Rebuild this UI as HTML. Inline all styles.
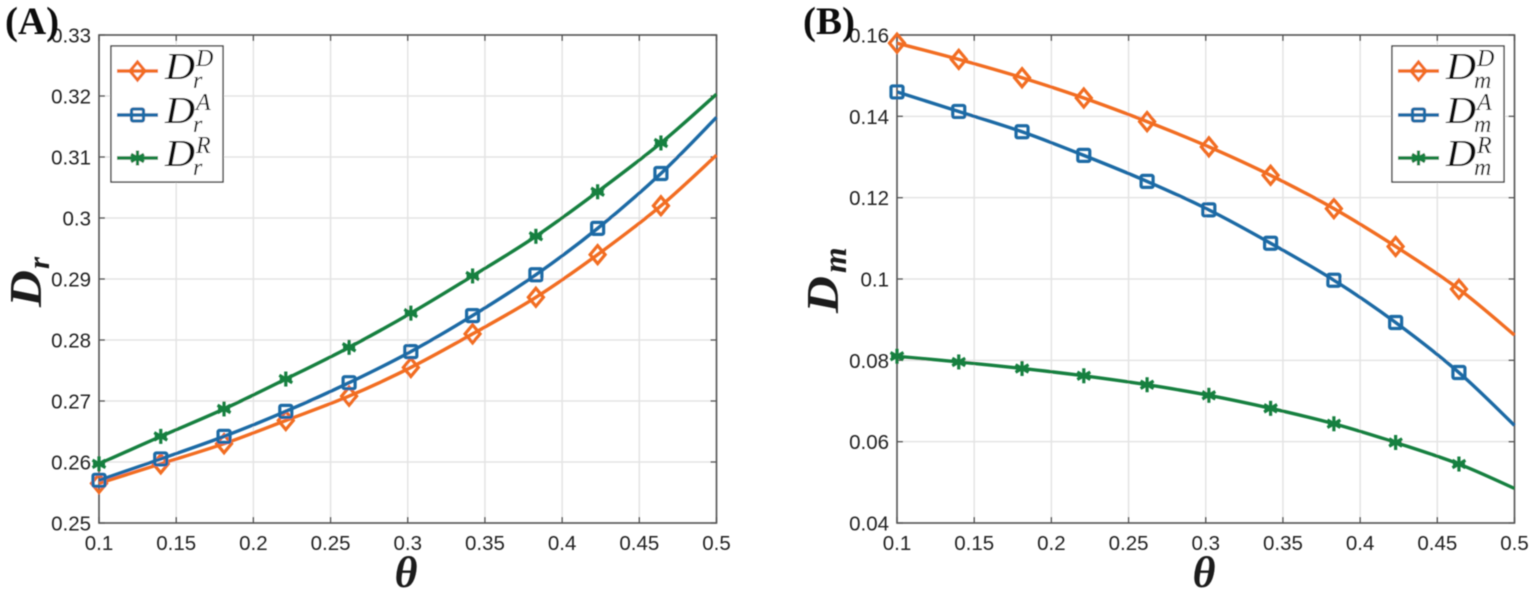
<!DOCTYPE html>
<html lang="en">
<head>
<meta charset="utf-8">
<title>Dr and Dm versus theta</title>
<style>
html,body{margin:0;padding:0;background:#fff;width:1535px;height:595px;overflow:hidden}
svg{display:block}
.tick{font-family:"Liberation Sans",sans-serif;font-size:20.5px;fill:#222}
.panel{font-family:"Liberation Serif",serif;font-weight:bold;fill:#111}
.math{font-family:"Liberation Serif",serif;font-style:italic;fill:#111}
.axis-math{font-family:"Liberation Serif",serif;font-style:italic;font-weight:bold;fill:#1a1a1a}
</style>
</head>
<body>
<svg id="figure" xmlns="http://www.w3.org/2000/svg" width="1535" height="595" viewBox="0 0 1535 595">
  <defs>
    <filter id="soft" x="-5%" y="-5%" width="110%" height="110%"><feGaussianBlur stdDeviation="0.4"/></filter>
  </defs>
  <g id="root" filter="url(#soft)"></g>
</svg>
<script>
const thetaValues = [0.1, 0.14, 0.181, 0.221, 0.262, 0.302, 0.342, 0.383, 0.423, 0.464, 0.5];
const xTickLabels = ["0.1", "0.15", "0.2", "0.25", "0.3", "0.35", "0.4", "0.45", "0.5"];

const drD = [0.2565, 0.2597, 0.263, 0.2668, 0.2708, 0.2755, 0.281, 0.287, 0.294, 0.302, 0.3103];
const drA = [0.257, 0.2605, 0.2642, 0.2683, 0.273, 0.2781, 0.284, 0.2907, 0.2983, 0.3073, 0.3165];
const drR = [0.2597, 0.2642, 0.2687, 0.2736, 0.2788, 0.2844, 0.2905, 0.297, 0.3043, 0.3123, 0.3203];
const drTickLabels = ["0.25", "0.26", "0.27", "0.28", "0.29", "0.3", "0.31", "0.32", "0.33"];

const dmD = [0.158, 0.154, 0.1495, 0.1445, 0.1387, 0.1325, 0.1255, 0.1173, 0.108, 0.0975, 0.0862];
const dmA = [0.146, 0.1412, 0.1362, 0.1304, 0.124, 0.117, 0.1088, 0.0997, 0.0893, 0.077, 0.064];
const dmR = [0.081, 0.0796, 0.078, 0.0762, 0.074, 0.0714, 0.0682, 0.0644, 0.0598, 0.0545, 0.0485];
const dmTickLabels = ["0.04", "0.06", "0.08", "0.1", "0.12", "0.14", "0.16"];

const NS = "http://www.w3.org/2000/svg";
const root = document.getElementById("root");
const ORANGE = "#f26d21", BLUE = "#1f6ba5", GREEN = "#15803f";

function make(tag, parent, props) {
  const e = document.createElementNS(NS, tag);
  for (const k in props) e.setAttribute(k, props[k]);
  parent.appendChild(e);
  return e;
}

function drawMarker(parent, kind, cx, cy, color) {
  const g = make("g", parent, {fill: "none", stroke: color, "stroke-width": 3.2});
  
  
  if (kind === "diamond") {
    make("path", g, {d: `M${cx} ${cy-9}L${cx+7.5} ${cy}L${cx} ${cy+9}L${cx-7.5} ${cy}Z`});
  } else if (kind === "square") {
    make("rect", g, {x: cx-6, y: cy-6, width: 12, height: 12, rx: 1.5});
  } else {
    const r = 7.5;
    for (const a of [90, 30, 150]) {
      const dx = r * Math.cos(a * Math.PI / 180), dy = r * Math.sin(a * Math.PI / 180);
      make("line", g, {x1: cx-dx, y1: cy-dy, x2: cx+dx, y2: cy+dy});
    }
    make("line", g, {x1: cx-6, y1: cy, x2: cx+6, y2: cy});
  }
}

function smoothPath(pts) {
  let d = `M${pts[0][0].toFixed(2)} ${pts[0][1].toFixed(2)}`;
  for (let i = 0; i < pts.length - 1; i++) {
    const p0 = pts[Math.max(i-1, 0)], p1 = pts[i], p2 = pts[i+1], p3 = pts[Math.min(i+2, pts.length-1)];
    const c1x = p1[0] + (p2[0]-p0[0])/6, c1y = p1[1] + (p2[1]-p0[1])/6;
    const c2x = p2[0] - (p3[0]-p1[0])/6, c2y = p2[1] - (p3[1]-p1[1])/6;
    d += `C${c1x.toFixed(2)} ${c1y.toFixed(2)} ${c2x.toFixed(2)} ${c2y.toFixed(2)} ${p2[0].toFixed(2)} ${p2[1].toFixed(2)}`;
  }
  return d;
}

function drawChart(cfg) {
  const L = cfg.left, R = cfg.left + 617.5, T = 35, B = 523;
  const xMin = 0.1, xMax = 0.5;
  const yTicks = cfg.yLabels.map(Number);
  const yMin = yTicks[0], yMax = yTicks[yTicks.length-1];
  const xScale = v => L + (v - xMin) / (xMax - xMin) * (R - L);
  const yScale = v => B - (v - yMin) / (yMax - yMin) * (B - T);

  const chart = make("g", root, {});
  
  

  const grid = make("g", chart, {stroke: "#e4e4e4", "stroke-width": 1.5});
  
  
  xTickLabels.forEach(t => {
    const x = xScale(Number(t));
    make("line", grid, {x1: x, y1: T, x2: x, y2: B});
  });
  cfg.yLabels.forEach(t => {
    const y = yScale(Number(t));
    make("line", grid, {x1: L, y1: y, x2: R, y2: y});
  });

  const ticks = make("g", chart, {stroke: "#4d4d4d", "stroke-width": 1.3});
  
  
  xTickLabels.forEach(t => {
    const x = xScale(Number(t));
    make("line", ticks, {x1: x, y1: B, x2: x, y2: B-6});
    make("line", ticks, {x1: x, y1: T, x2: x, y2: T+6});
    const lab = make("text", chart, {x: x, y: 550, "text-anchor": "middle", class: "tick"});
    
    
    lab.textContent = t;
  });
  cfg.yLabels.forEach(t => {
    const y = yScale(Number(t));
    make("line", ticks, {x1: L, y1: y, x2: L+6, y2: y});
    make("line", ticks, {x1: R, y1: y, x2: R-6, y2: y});
    const lab = make("text", chart, {x: L-8, y: y+7.5, "text-anchor": "end", class: "tick"});
    
    
    lab.textContent = t;
  });

  const frame = make("rect", chart, {x: L, y: T, width: R-L, height: B-T, fill: "none", stroke: "#555", "stroke-width": 1.6});
  
  

  cfg.series.forEach(s => {
    const g = make("g", chart, {});
    
    
    const pts = thetaValues.map((x, i) => [xScale(x), yScale(s.values[i])]);
    const line = make("path", g, {d: smoothPath(pts), fill: "none", stroke: s.color, "stroke-width": 3.4, "stroke-linejoin": "round"});
    
    
    pts.slice(0, -1).forEach(p => drawMarker(g, s.marker, p[0], p[1], s.color));
  });

  const lg = make("g", chart, {});
  
  
  const lx = cfg.legendX;
  const box = make("rect", lg, {x: lx, y: 46, width: 112, height: 136, fill: "#fff", stroke: "#444", "stroke-width": 1.4});
  
  
  cfg.series.forEach((s, i) => {
    const rowY = [71, 115, 158][i];
    const row = make("g", lg, {});
    
    
    make("line", row, {x1: lx+6, y1: rowY, x2: lx+47, y2: rowY, stroke: s.color, "stroke-width": 3.4});
    drawMarker(row, s.marker, lx+26.5, rowY, s.color);
    const d = make("text", row, {x: lx+54, y: rowY+8, class: "math", "font-size": 38, textLength: 30, lengthAdjust: "spacingAndGlyphs"});
    d.textContent = "D";
    const sup = make("text", row, {x: lx+85, y: rowY-5, class: "math", "font-size": 24});
    sup.textContent = s.sup;
    const sub = make("text", row, {x: lx+82, y: rowY+17, class: "math", "font-size": 24});
    sub.textContent = cfg.sub;
  });

  const panel = make("text", chart, {x: cfg.panelX, y: 34, class: "panel", "font-size": 39});
  
  
  panel.textContent = cfg.panel;

  const xt = make("text", chart, {x: cfg.thetaX, y: 587, "text-anchor": "middle", class: "axis-math", "font-size": 44});
  
  
  xt.textContent = "θ";

  const yt = make("g", chart, {transform: `translate(${cfg.yTitleX} ${cfg.yTitleY}) rotate(-90)`});
  
  
  const yd = make("text", yt, {x: 0, y: 0, class: "axis-math", "font-size": 46, textLength: 37, lengthAdjust: "spacingAndGlyphs"});
  yd.textContent = "D";
  const ys = make("text", yt, {x: cfg.subOffset, y: 8, class: "axis-math", "font-size": cfg.subSize});
  ys.textContent = cfg.sub;
}

drawChart({
  id: "a", panel: "(A)", panelX: 5, left: 99, legendX: 111, thetaX: 406, yTitleX: 41, yTitleY: 307, subOffset: 38, subSize: 31, sub: "r",
  yLabels: drTickLabels,
  series: [
    {name: "dr-d", values: drD, color: ORANGE, marker: "diamond", sup: "D"},
    {name: "dr-a", values: drA, color: BLUE, marker: "square", sup: "A"},
    {name: "dr-r", values: drR, color: GREEN, marker: "star", sup: "R"}
  ]
});
drawChart({
  id: "b", panel: "(B)", panelX: 803, left: 897, legendX: 1392, thetaX: 1204, yTitleX: 838, yTitleY: 313, subOffset: 40, subSize: 33, sub: "m",
  yLabels: dmTickLabels,
  series: [
    {name: "dm-d", values: dmD, color: ORANGE, marker: "diamond", sup: "D"},
    {name: "dm-a", values: dmA, color: BLUE, marker: "square", sup: "A"},
    {name: "dm-r", values: dmR, color: GREEN, marker: "star", sup: "R"}
  ]
});
</script>
</body>
</html>
